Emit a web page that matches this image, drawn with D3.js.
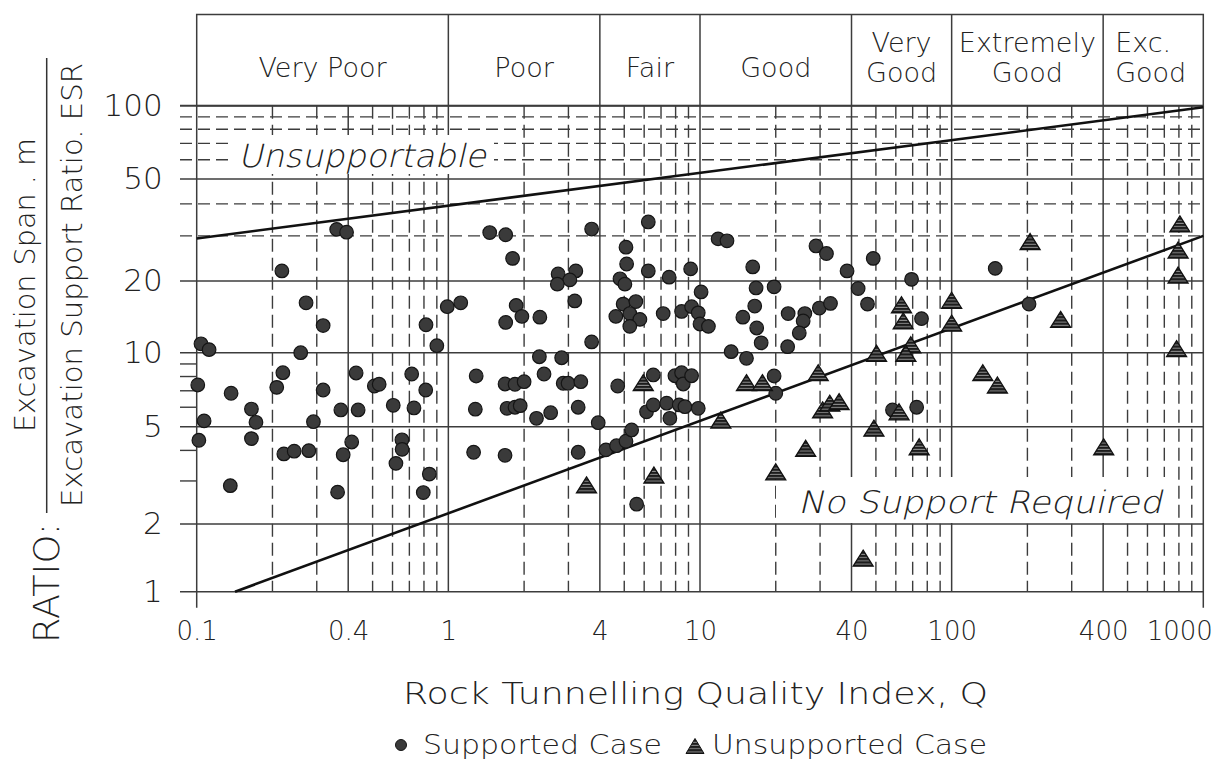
<!DOCTYPE html>
<html>
<head>
<meta charset="utf-8">
<script src="https://cdn.jsdelivr.net/npm/d3@7"></script>
<style>
  body { margin: 0; background: #fff; }
  text { font-family: "DejaVu Sans", "Liberation Sans", Arial, sans-serif; font-weight: 200; fill: #222; }
</style>
</head>
<body>
<svg width="1218" height="763"></svg>
<script>
var svg = d3.select("svg");

// rock mass classes along Q
var qualityClasses = [
	{label: ["Very Poor"], from: 0.1, to: 1},
	{label: ["Poor"], from: 1, to: 4},
	{label: ["Fair"], from: 4, to: 10},
	{label: ["Good"], from: 10, to: 40},
	{label: ["Very", "Good"], from: 40, to: 100},
	{label: ["Extremely", "Good"], from: 100, to: 400},
	{label: ["Exc.", "Good"], from: 400, to: 1000}
];

var qTicks = [0.1, 0.4, 1, 4, 10, 40, 100, 400, 1000];
var qMinor = [0.2, 0.3, 0.5, 0.6, 0.7, 0.8, 0.9, 2, 3, 5, 6, 7, 8, 9,
	20, 30, 50, 60, 70, 80, 90, 200, 300, 500, 600, 700, 800, 900];
var spanTicks = [1, 2, 5, 10, 20, 50, 100];
var spanDashed = [30, 40, 60, 70, 80, 90];
var spanMinor = [3, 4, 6, 7, 8, 9];

// [Q, span/ESR]
var supportedCases = [
	[0.36, 31.8], [0.394, 31.0], [1.46, 30.9], [1.69, 30.3], [1.80, 24.5], [0.218, 21.9],
	[0.272, 16.2], [0.318, 13.0], [0.815, 13.1], [0.99, 15.6], [1.12, 16.2], [1.86, 15.8],
	[1.96, 14.2], [1.69, 13.4], [0.90, 10.7], [0.104, 10.9], [0.112, 10.3], [0.259, 10.0],
	[0.22, 8.29], [0.43, 8.27], [0.715, 8.19], [1.29, 8.04], [0.101, 7.39], [0.208, 7.23],
	[0.318, 7.05], [0.508, 7.32], [0.531, 7.44], [0.813, 7.05], [1.68, 7.46], [1.84, 7.44],
	[2.0, 7.62], [0.137, 6.84], [0.165, 5.90], [0.374, 5.85], [0.438, 5.85], [0.604, 6.11],
	[0.73, 5.96], [1.28, 5.89], [1.71, 5.94], [1.84, 6.0], [1.93, 6.09], [0.107, 5.28],
	[0.172, 5.21], [0.291, 5.24], [0.102, 4.40], [0.165, 4.47], [0.413, 4.33], [0.654, 4.42],
	[0.655, 4.04], [0.222, 3.87], [0.244, 3.97], [0.279, 3.99], [0.382, 3.84], [1.26, 3.93],
	[1.68, 3.82], [0.619, 3.54], [0.84, 3.20], [0.136, 2.87], [0.363, 2.70], [0.795, 2.69],
	[6.23, 34.0], [3.71, 31.9], [11.8, 29.2], [12.8, 28.7], [28.9, 27.4], [31.8, 25.6],
	[5.08, 27.1], [5.11, 23.3], [16.2, 22.7], [38.4, 21.9], [2.73, 21.3], [3.21, 21.9],
	[3.04, 20.2], [2.71, 19.4], [4.81, 20.4], [5.03, 19.4], [6.23, 21.9], [7.54, 20.7],
	[9.18, 22.3], [10.1, 18.0], [16.7, 18.7], [19.7, 18.9], [42.5, 18.6], [3.18, 16.5],
	[2.31, 14.1], [4.95, 16.0], [5.56, 16.4], [4.63, 14.2], [5.26, 14.6], [5.77, 13.8],
	[5.26, 12.9], [7.14, 14.6], [8.45, 14.9], [9.26, 15.6], [9.84, 14.7], [10.0, 13.2],
	[10.8, 12.9], [16.5, 15.7], [14.8, 14.1], [16.8, 12.7], [17.5, 11.0], [22.4, 14.6],
	[26.1, 14.6], [25.7, 13.6], [29.8, 15.4], [33.0, 16.1], [24.8, 12.1], [22.3, 10.6],
	[3.71, 11.1], [13.3, 10.1], [15.3, 9.49], [2.30, 9.63], [2.82, 9.54], [2.40, 8.19],
	[2.86, 7.51], [2.99, 7.51], [3.36, 7.62], [4.71, 7.32], [6.52, 8.12], [7.95, 8.06],
	[8.45, 8.29], [8.58, 7.46], [9.26, 8.06], [19.7, 8.04], [20.0, 6.84], [2.24, 5.41],
	[2.55, 5.70], [3.28, 6.0], [3.94, 5.19], [6.13, 5.75], [6.52, 6.13], [7.37, 6.23],
	[7.59, 5.41], [8.27, 6.13], [8.71, 6.03], [9.84, 5.94], [3.28, 3.93], [4.23, 4.02],
	[4.66, 4.18], [5.08, 4.36], [5.35, 4.85], [5.60, 2.41], [48.8, 24.5], [46.3, 16.0],
	[69.3, 20.3], [149, 22.4], [75.9, 13.9], [203, 16.0], [58.2, 5.85], [72.6, 6.0]
];

var unsupportedCases = [
	[5.95, 7.55], [15.3, 7.55], [17.7, 7.55], [3.54, 2.89], [6.56, 3.17], [12.1, 5.32],
	[20.0, 3.27], [26.3, 4.08], [29.5, 8.29], [30.7, 5.85], [32.8, 6.23], [35.7, 6.32],
	[807, 33.4], [205, 28.5], [794, 26.4], [794, 21.1], [63.2, 15.9], [100, 16.6],
	[64.2, 13.6], [100, 13.3], [271, 13.8], [68.8, 10.8], [50.3, 9.94], [65.8, 9.94],
	[783, 10.4], [133, 8.29], [152, 7.39], [61.8, 5.75], [49.1, 4.93], [74.3, 4.14],
	[402, 4.14], [44.5, 1.41]
];

var upperLimit = [[0.1, 29.3], [1000, 98.5]];
var lowerLimit = [[0.142, 1], [1000, 30]];

var x = d3.scaleLog().domain([0.1, 1000]).range([196.7, 1203.3]);
// hand drawn chart: the decades are not quite even, so pin every labelled line
var y = d3.scaleLog().domain(spanTicks).range([591.7, 524, 426.7, 352.7, 281, 179, 105.7]);

var headerTop = 14.5,
	gridLeft = 180,
	gridColor = "#3c3c3c",
	fontStack = "DejaVu Sans, Liberation Sans, Arial, sans-serif";

var defs = svg.append("defs");
var stripes = defs.append("pattern")
	.attr("id", "stripes")
	.attr("patternUnits", "userSpaceOnUse")
	.attr("width", 8).attr("height", 3.2);
stripes.append("rect").attr("width", 8).attr("height", 3.2).attr("fill", "#1c1c1c");
stripes.append("rect").attr("y", 2.2).attr("width", 8).attr("height", 1).attr("fill", "#8a8a8a");

var grid = svg.append("g");

// dashed grid
grid.selectAll(".vdash")
	.data(qMinor)
	.enter().append("line")
	.attr("x1", function (d) { return x(d); })
	.attr("x2", function (d) { return x(d); })
	.attr("y1", y(100))
	.attr("y2", y(1))
	.attr("stroke", gridColor)
	.attr("stroke-width", 1.4)
	.attr("stroke-dasharray", "13,6");

grid.selectAll(".hdash")
	.data(spanDashed)
	.enter().append("line")
	.attr("x1", gridLeft)
	.attr("x2", x(1000))
	.attr("y1", function (d) { return y(d); })
	.attr("y2", function (d) { return y(d); })
	.attr("stroke", gridColor)
	.attr("stroke-width", 1.4)
	.attr("stroke-dasharray", "12,6");

// solid grid
grid.selectAll(".hsolid")
	.data(spanTicks)
	.enter().append("line")
	.attr("x1", gridLeft)
	.attr("x2", x(1000))
	.attr("y1", function (d) { return y(d); })
	.attr("y2", function (d) { return y(d); })
	.attr("stroke", gridColor)
	.attr("stroke-width", function (d) { return d == 100 ? 2 : 1.5; });

grid.selectAll(".hminor")
	.data(spanMinor)
	.enter().append("line")
	.attr("x1", gridLeft)
	.attr("x2", x(0.1))
	.attr("y1", function (d) { return y(d); })
	.attr("y2", function (d) { return y(d); })
	.attr("stroke", gridColor)
	.attr("stroke-width", 1.4);

grid.selectAll(".vsolid")
	.data(qTicks)
	.enter().append("line")
	.attr("x1", function (d) { return x(d); })
	.attr("x2", function (d) { return x(d); })
	.attr("y1", y(100))
	.attr("y2", function (d) { return (d == 0.1 || d == 1000) ? y(1) + 16 : y(1); })
	.attr("stroke", gridColor)
	.attr("stroke-width", 1.5);

// class header
var header = svg.append("g");
header.append("rect")
	.attr("x", x(0.1))
	.attr("y", headerTop)
	.attr("width", x(1000) - x(0.1))
	.attr("height", y(100) - headerTop)
	.attr("fill", "none")
	.attr("stroke", gridColor)
	.attr("stroke-width", 1.5);

header.selectAll(".sep")
	.data(qualityClasses.slice(1))
	.enter().append("line")
	.attr("x1", function (d) { return x(d.from); })
	.attr("x2", function (d) { return x(d.from); })
	.attr("y1", headerTop)
	.attr("y2", y(100))
	.attr("stroke", gridColor)
	.attr("stroke-width", 1.5);

var classLabel = header.selectAll(".cls")
	.data(qualityClasses)
	.enter().append("text")
	.attr("font-size", 27)
	.attr("text-anchor", function (d, i) { return i == qualityClasses.length - 1 ? "start" : "middle"; })
	.attr("x", function (d, i) {
		if (i == qualityClasses.length - 1) return x(d.from) + 12;
		return x(Math.sqrt(d.from * d.to));
	});
classLabel.selectAll("tspan")
	.data(function (d) { return d.label.map(function (s, k) { return {s: s, k: k, n: d.label.length}; }); })
	.enter().append("tspan")
	.attr("x", function () { return d3.select(this.parentNode).attr("x"); })
	.attr("y", function (t) { return t.n == 1 ? 76.5 : (t.k == 0 ? 51.5 : 82); })
	.text(function (t) { return t.s; });

// white boxes behind the region notes, slanted light text
var notes = svg.append("g");
notes.append("rect")
	.attr("x", 232).attr("y", 135)
	.attr("width", 262).attr("height", 39)
	.attr("fill", "#fff");
notes.append("text")
	.attr("transform", "translate(238,167) skewX(-13)")
	.attr("font-size", 32)
	.attr("textLength", 248)
	.attr("lengthAdjust", "spacingAndGlyphs")
	.text("Unsupportable");

notes.append("rect")
	.attr("x", 776).attr("y", 477)
	.attr("width", 396).attr("height", 46)
	.attr("fill", "#fff");
notes.append("text")
	.attr("transform", "translate(798,513) skewX(-13)")
	.attr("font-size", 31)
	.attr("textLength", 364)
	.attr("lengthAdjust", "spacingAndGlyphs")
	.text("No Support Required");

// limit lines
var line = d3.line()
	.x(function (d) { return x(d[0]); })
	.y(function (d) { return y(d[1]); });

svg.selectAll(".limit")
	.data([upperLimit, lowerLimit])
	.enter().append("path")
	.attr("d", line)
	.attr("fill", "none")
	.attr("stroke", "#111")
	.attr("stroke-width", 2.6);

// cases
var triangle = function (w, h) {
	return "M0," + (-h / 2) + "L" + (w / 2) + "," + (h / 2) + "L" + (-w / 2) + "," + (h / 2) + "Z";
};

svg.append("g").selectAll("circle")
	.data(supportedCases)
	.enter().append("circle")
	.attr("cx", function (d) { return x(d[0]); })
	.attr("cy", function (d) { return y(d[1]); })
	.attr("r", 6.8)
	.attr("fill", "#3a3a3a")
	.attr("stroke", "#151515")
	.attr("stroke-width", 1.2);

svg.append("g").selectAll("path")
	.data(unsupportedCases)
	.enter().append("path")
	.attr("transform", function (d) { return "translate(" + x(d[0]) + "," + y(d[1]) + ")"; })
	.attr("d", triangle(20, 16))
	.attr("fill", "url(#stripes)")
	.attr("stroke", "#111")
	.attr("stroke-width", 1.3);

// axes
var yAxis = svg.append("g")
	.attr("transform", "translate(" + x(0.1) + ",0)")
	.call(d3.axisLeft(y).tickValues(spanTicks).tickSize(0).tickPadding(34).tickFormat(d3.format("d")));
yAxis.select(".domain").remove();
yAxis.selectAll("text")
	.attr("font-size", 31)
	.attr("font-family", fontStack)
	.attr("fill", "#222");

var xAxis = svg.append("g")
	.attr("transform", "translate(0," + y(1) + ")")
	.call(d3.axisBottom(x).tickValues(qTicks).tickSize(0).tickPadding(30).tickFormat(function (d) { return String(d); }));
xAxis.select(".domain").remove();
xAxis.selectAll("text")
	.attr("font-size", 26)
	.attr("font-family", fontStack)
	.attr("fill", "#222");
xAxis.selectAll("text")
	.filter(function (d) { return d == 1000; })
	.attr("text-anchor", "end")
	.attr("x", 9);

// axis titles
svg.append("text")
	.attr("x", 403).attr("y", 704)
	.attr("font-size", 30)
	.attr("textLength", 585)
	.attr("lengthAdjust", "spacingAndGlyphs")
	.text("Rock Tunnelling Quality Index, Q");

svg.append("text")
	.attr("transform", "translate(59,583) rotate(-90)")
	.attr("text-anchor", "middle")
	.attr("font-size", 36)
	.attr("textLength", 120)
	.attr("lengthAdjust", "spacingAndGlyphs")
	.text("RATIO:");

svg.append("line")
	.attr("x1", 46.7).attr("x2", 46.7)
	.attr("y1", 58).attr("y2", 513)
	.attr("stroke", "#333")
	.attr("stroke-width", 1.5);

svg.append("text")
	.attr("transform", "translate(35,285) rotate(-90)")
	.attr("text-anchor", "middle")
	.attr("font-size", 29)
	.attr("textLength", 294)
	.attr("lengthAdjust", "spacingAndGlyphs")
	.text("Excavation Span . m");

svg.append("text")
	.attr("transform", "translate(81.5,285) rotate(-90)")
	.attr("text-anchor", "middle")
	.attr("font-size", 28)
	.attr("textLength", 444)
	.attr("lengthAdjust", "spacingAndGlyphs")
	.text("Excavation Support Ratio. ESR");

// legend
var legend = svg.append("g");
legend.append("circle")
	.attr("cx", 401).attr("cy", 745)
	.attr("r", 5.5)
	.attr("fill", "#3a3a3a")
	.attr("stroke", "#151515");
legend.append("text")
	.attr("x", 423).attr("y", 754)
	.attr("font-size", 27)
	.attr("textLength", 239)
	.attr("lengthAdjust", "spacingAndGlyphs")
	.text("Supported Case");
legend.append("path")
	.attr("transform", "translate(695,746)")
	.attr("d", triangle(18, 15))
	.attr("fill", "url(#stripes)")
	.attr("stroke", "#111");
legend.append("text")
	.attr("x", 712).attr("y", 754)
	.attr("font-size", 27)
	.attr("textLength", 275)
	.attr("lengthAdjust", "spacingAndGlyphs")
	.text("Unsupported Case");
</script>
</body>
</html>
